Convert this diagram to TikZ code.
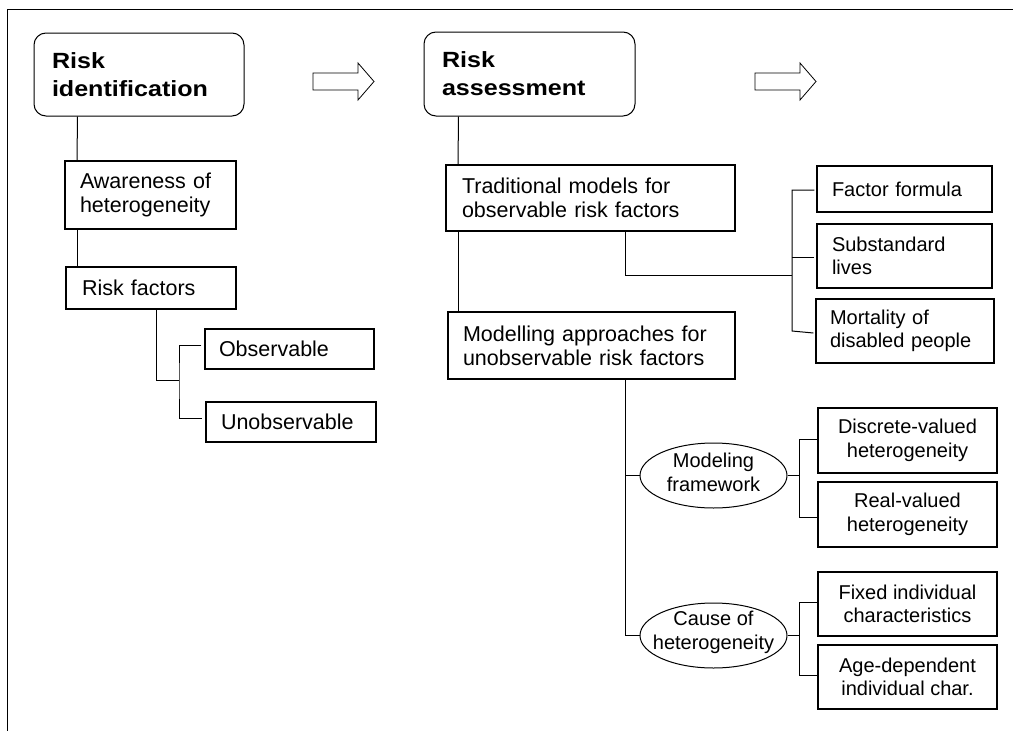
\documentclass[tikz,border=0pt]{standalone}
\usepackage{fontspec}
\setmainfont{Liberation Sans}[BoldFeatures={FakeStretch=1.14}]
\usetikzlibrary{shapes.geometric}
\begin{document}
\begin{tikzpicture}[x=1pt,y=-1pt,
  conn/.style={line width=1pt},
  titlebox/.style={draw, line width=1pt, rounded corners=12pt, inner ysep=0pt, align=left,
    font=\fontsize{22}{28}\selectfont\bfseries},
  thickbox/.style={draw, line width=2pt, inner ysep=0pt, align=left,
    font=\fontsize{21.5}{24}\selectfont},
  thinbox/.style={draw, line width=1.2pt, inner ysep=0pt, align=left,
    font=\fontsize{21.5}{24}\selectfont},
  rbox/.style={draw, line width=1.3pt, inner ysep=0pt, align=left,
    font=\fontsize{20}{23}\selectfont},
  cbox/.style={draw, line width=1.4pt, inner sep=0pt, align=center, minimum width=179pt,
    font=\fontsize{20}{23.5}\selectfont},
  ell/.style={draw, ellipse, line width=1pt, inner sep=0pt, minimum width=147pt, minimum height=65pt},
  elltext/.style={inner sep=0pt, align=center, font=\fontsize{20}{24}\selectfont},
  blockarrow/.style={draw, line width=0.8pt, line join=miter}
]
\useasboundingbox (0,0) rectangle (1013,731);
% frame (top and left edges)
\draw[line width=1pt] (7,731) -- (7,9) -- (1013,9);

% titles
\node[titlebox, minimum width=210pt, minimum height=83pt, text width=174pt, inner xsep=18pt] (ri) at (139,74.5) {Risk\\identification};
\node[titlebox, minimum width=211pt, minimum height=84pt, text width=175pt, inner xsep=18pt] (ra) at (529.5,74) {Risk\\assessment};

% block arrows
\draw[blockarrow] (313,73) -- (358,73) -- (358,63) -- (374,81.5) -- (358,100) -- (358,90) -- (313,90) -- cycle;
\draw[blockarrow] (755,73) -- (800,73) -- (800,63) -- (816,81.5) -- (800,100) -- (800,90) -- (755,90) -- cycle;

% left column
\node[thickbox, minimum width=171pt, minimum height=68pt, text width=141pt, inner xsep=15pt] (aw) at (150.5,195) {Awareness of\\heterogeneity};
\node[thickbox, minimum width=170pt, minimum height=42pt, text width=138pt, inner xsep=16pt] (rf) at (151,288) {Risk factors};
\node[thinbox, minimum width=169pt, minimum height=40pt, text width=141pt, inner xsep=14pt] (ob) at (289.5,349) {Observable};
\node[thinbox, minimum width=170pt, minimum height=40pt, text width=140pt, inner xsep=15pt] (un) at (291,422) {Unobservable};

% middle column
\node[thickbox, minimum width=289pt, minimum height=66pt, text width=257pt, inner xsep=16pt] (tr) at (590.5,198) {Traditional models for\\observable risk factors};
\node[thickbox, minimum width=287pt, minimum height=67pt, text width=257pt, inner xsep=15pt] (mo) at (591.5,345.5) {Modelling approaches for\\unobservable risk factors};

% right top group
\node[rbox, minimum width=175pt, minimum height=46pt, text width=145pt, inner xsep=15pt] (ff) at (904.5,189) {Factor formula};
\node[rbox, line width=1.8pt, minimum width=175pt, minimum height=64pt, text width=145pt, inner xsep=15pt] (ss) at (904.5,256) {Substandard\\lives};
\node[rbox, minimum width=178pt, minimum height=64pt, text width=150pt, inner xsep=14pt] (md) at (905,331) {Mortality of\\disabled people};

% ellipses
\node[ell] (mf) at (713.5,475.5) {};
\node[elltext] (mft) at ([yshift=3pt]mf.center) {Modeling\\framework};
\node[ell] (ch) at (713.5,635.5) {};
\node[elltext] (cht) at ([yshift=3pt]ch.center) {Cause of\\heterogeneity};

% right bottom boxes
\node[cbox, minimum height=65pt] (dv) at (907.5,440.5) {Discrete-valued\\heterogeneity};
\node[cbox, minimum height=65pt] (rv) at (907.5,514.5) {Real-valued\\heterogeneity};
\node[cbox, minimum height=64pt] (fi) at (907.5,604) {Fixed individual\\characteristics};
\node[cbox, minimum height=64pt] (ad) at (907.5,677) {Age-dependent\\individual char.};

% connectors left
\draw[conn] ([shift={(44,0)}]ri.south west) -- ([shift={(13,0)}]aw.north west);
\draw[conn] ([shift={(13,0)}]aw.south west) -- ([shift={(12,0)}]rf.north west);
\coordinate (j1) at (179,380);
\draw[conn] ([shift={(91,0)}]rf.south west) |- (j1);
\draw[conn] ([shift={(-3,-4)}]ob.west) -| (j1) |- ([shift={(-3,-4)}]un.west);

% connectors middle
\draw[conn] ([shift={(35,0)}]ra.south west) -- ([shift={(13,0)}]tr.north west);
\draw[conn] ([shift={(13,0)}]tr.south west) -- ([shift={(11,0)}]mo.north west);
\coordinate (j2) at (792,275);
\draw[conn] ([shift={(180,0)}]tr.south west) |- (j2);
\draw[conn] ([shift={(-2,1)}]ff.west) -| (j2 |- md.west) -- ([shift={(-2,2)}]md.west);
\draw[conn] ([shift={(-2,1)}]ss.west) -- ([shift={(0,1)}]ss.west -| j2);

% connectors to ellipses
\coordinate (v1) at ([shift={(178,0)}]mo.south west);
\draw[conn] (v1) |- (ch.west);
\draw[conn] (mf.west) -- (mf.west -| v1);

\coordinate (j4) at ([shift={(12,0)}]mf.east);
\draw[conn] (mf.east) -- (j4);
\draw[conn] ([shift={(0,-1.5)}]dv.west) -| ([shift={(0,2.5)}]j4 |- rv.west) -- ([shift={(0,2.5)}]rv.west);

\coordinate (j5) at ([shift={(12,0)}]ch.east);
\draw[conn] (ch.east) -- (j5);
\draw[conn] ([shift={(0,-2)}]fi.west) -| ([shift={(0,-2)}]j5 |- ad.west) -- ([shift={(0,-2)}]ad.west);
\end{tikzpicture}
\end{document}
